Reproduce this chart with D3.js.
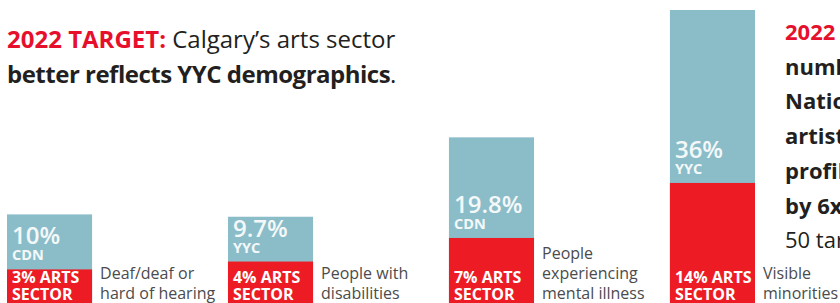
<!DOCTYPE html>
<html><head><meta charset="utf-8">
<script src="https://cdn.jsdelivr.net/npm/d3@7"></script>
<style>
html,body{margin:0;padding:0;background:#fff;overflow:hidden}
svg{display:block}
text{font-family:"Open Sans","Noto Sans",sans-serif}
</style>
</head><body>
<svg id="chart" width="840" height="303"></svg>
<script>
// ---- data ----
const categories = ["Deaf/deaf or hard of hearing", "People with disabilities", "People experiencing mental illness", "Visible minorities"];
const categoryLines = [["Deaf/deaf or", "hard of hearing"], ["People with", "disabilities"], ["People", "experiencing", "mental illness"], ["Visible", "minorities"]];
const populationValues = [10, 9.7, 19.8, 36];
const populationSources = ["CDN", "YYC", "CDN", "YYC"];
const artsSectorValues = [3, 4, 7, 14];
const artsSectorLabel = ["ARTS", "SECTOR"];
const titleTarget = "2022 TARGET:";
const titleLine1 = " Calgary’s arts sector";
const titleLine2Bold = "better reflects YYC demographics";
const titleLine2End = ".";
const sideLines = [
  {t: "2022 TARGET: The", red: true, bold: true},
  {t: "number of", bold: true},
  {t: "Nationally-recognized", bold: true},
  {t: "artists with a", bold: true},
  {t: "profile increases", bold: true},
  {t: "by 6x", bold: true},
  {t: "50 target", bold: false}
];

// ---- layout ----
const W = 840, H = 303;
const BLUE = "#8bbdc9", RED = "#ed1c24", TRED = "#e6102d", DARK = "#231f20", GREY = "#4b4b4d";
const svg = d3.select("#chart");

const x = d3.scaleBand().domain(categories).range([7, 755]).paddingInner(0.615).paddingOuter(0);
const y = d3.scaleLinear().domain([0, 36]).range([293, 10]);

const data = categories.map((c, i) => ({
  cat: c, lines: categoryLines[i], pop: populationValues[i], src: populationSources[i], arts: artsSectorValues[i]
}));

const g = svg.append("g");

// population (blue) bars
g.selectAll("rect.pop").data(data).join("rect").attr("class", "pop")
  .attr("x", d => x(d.cat)).attr("width", x.bandwidth())
  .attr("y", d => y(d.pop)).attr("height", d => H - y(d.pop))
  .attr("fill", BLUE);

// arts sector (red) bars
g.selectAll("rect.arts").data(data).join("rect").attr("class", "arts")
  .attr("x", d => x(d.cat)).attr("width", x.bandwidth())
  .attr("y", d => y(d.arts)).attr("height", d => H - y(d.arts))
  .attr("fill", RED);

// population labels in blue part (value + source, one text block)
const pl = g.selectAll("text.pl").data(data).join("text").attr("class", "pl")
  .attr("fill", "#f4f8f9").attr("font-weight", 700);
pl.append("tspan").attr("x", d => x(d.cat) + 5).attr("y", d => y(d.arts) - 25)
  .attr("font-size", 24).attr("font-weight", 600).text(d => d.pop + "%");
pl.append("tspan").attr("x", d => x(d.cat) + 5).attr("y", d => y(d.arts) - 9)
  .attr("font-size", 14.5).text(d => d.src);

// arts sector labels (anchored to bottom)
const al = g.selectAll("text.al").data(data).join("text").attr("class", "al")
  .attr("fill", "#fff").attr("font-size", 16).attr("font-weight", 700);
al.append("tspan").attr("x", d => x(d.cat) + 5).attr("y", 282.5).text(d => d.arts + "% " + artsSectorLabel[0]);
al.append("tspan").attr("x", d => x(d.cat) + 5).attr("y", 299.5).text(artsSectorLabel[1]);

// category labels
const cl = g.selectAll("text.cat").data(data).join("text").attr("class", "cat")
  .attr("fill", GREY).attr("font-size", 16);
cl.selectAll("tspan").data(d => d.lines.map((l, j) => ({l, j, n: d.lines.length, x: x(d.cat) + x.bandwidth() + 8})))
  .join("tspan").attr("x", t => t.x).attr("y", t => 299 - (t.n - 1 - t.j) * 19.8).text(t => t.l);

// title
const t1 = svg.append("text").attr("x", 7).attr("y", 48).attr("font-size", 24).attr("fill", DARK);
t1.append("tspan").attr("font-weight", 700).attr("fill", TRED).text(titleTarget);
t1.append("tspan").text(titleLine1);
const t2 = svg.append("text").attr("x", 7).attr("y", 83).attr("font-size", 24).attr("fill", DARK)
  .attr("letter-spacing", -0.5);
t2.append("tspan").attr("font-weight", 700).text(titleLine2Bold);
t2.append("tspan").text(titleLine2End);

// side text (clipped by the page edge)
svg.append("g").selectAll("text").data(sideLines).join("text")
  .attr("x", 785).attr("y", (d, i) => 40 + i * 34.7)
  .attr("font-size", 22).attr("font-weight", d => d.bold ? 700 : 400)
  .attr("fill", d => d.red ? TRED : DARK)
  .text(d => d.t);
</script>
</body></html>
